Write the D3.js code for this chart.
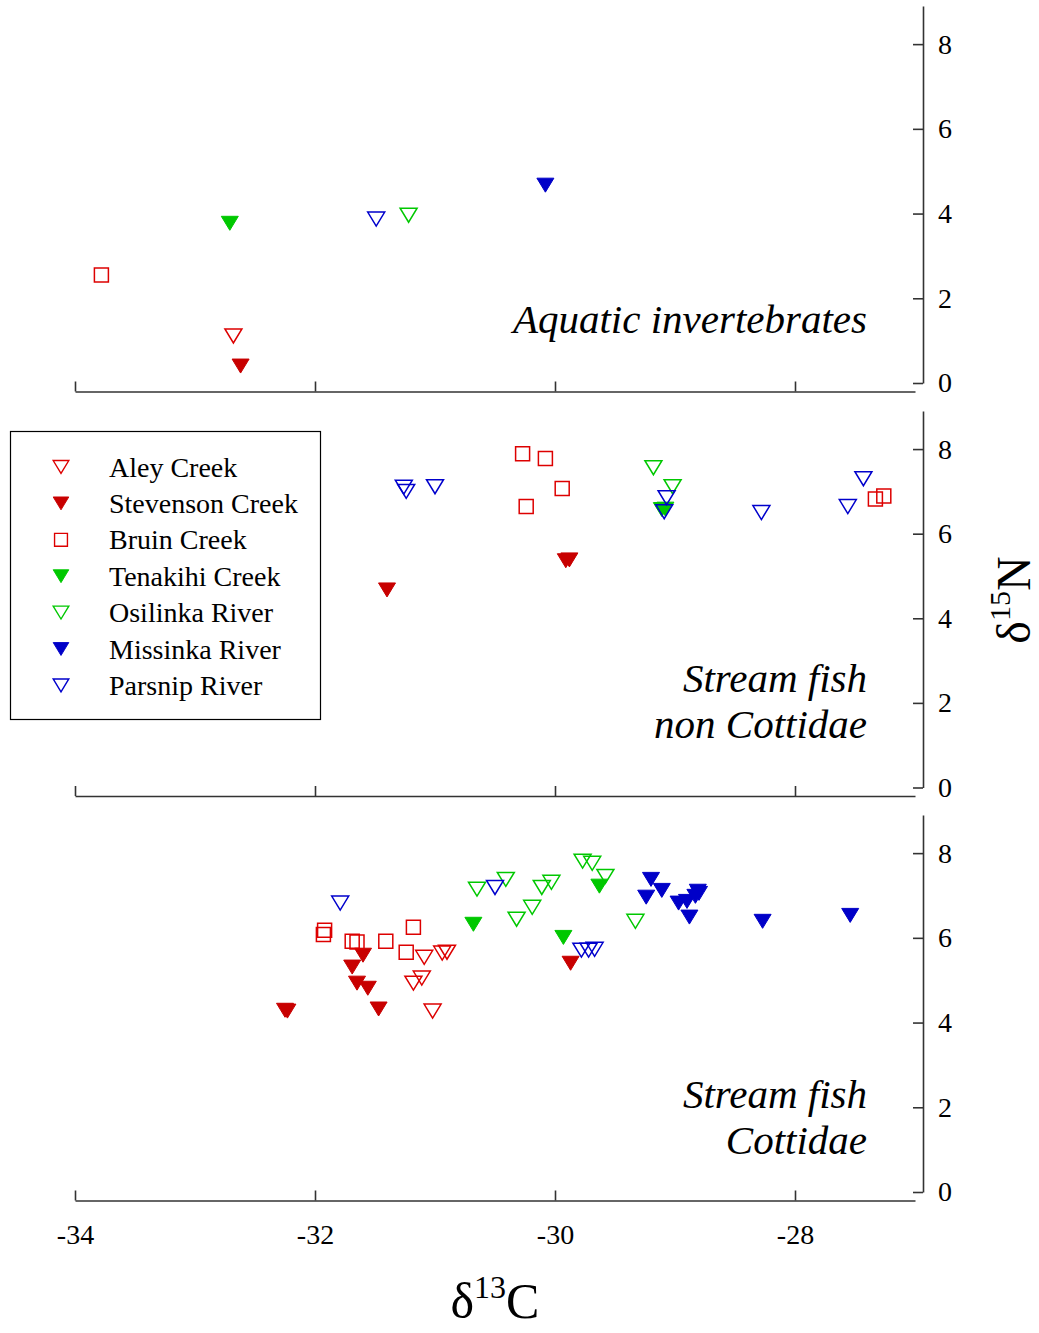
<!DOCTYPE html>
<html>
<head>
<meta charset="utf-8">
<script src="https://cdn.jsdelivr.net/npm/d3@7"></script>
<style>
  body { margin: 0; background: #fff; }
  text { font-family: "Liberation Serif", "Times New Roman", serif; }
</style>
</head>
<body>
<div id="chart"></div>
<script>
// Data: [d13C, d15N] per site, for each of the three panels
var siteNames = ["Aley Creek", "Stevenson Creek", "Bruin Creek", "Tenakihi Creek",
                 "Osilinka River", "Missinka River", "Parsnip River"];
var xTicks = [-34, -32, -30, -28];
var yTicks = [0, 2, 4, 6, 8];
var panelTitles = [["Aquatic invertebrates"], ["Stream fish", "non Cottidae"], ["Stream fish", "Cottidae"]];

// panel 1: aquatic invertebrates
var aleyInv = [[-32.68, 1.11]];
var stevensonInv = [[-32.62, 0.40]];
var bruinInv = [[-33.78, 2.55]];
var tenakihiInv = [[-32.71, 3.77]];
var osilinkaInv = [[-31.22, 3.96]];
var missinkaInv = [[-30.08, 4.67]];
var parsnipInv = [[-31.49, 3.87]];

// panel 2: stream fish, non Cottidae
var aleyFish = [];
var stevensonFish = [[-31.40, 4.67], [-29.91, 5.36], [-29.88, 5.38]];
var bruinFish = [[-30.27, 7.89], [-30.08, 7.78], [-29.94, 7.07], [-30.24, 6.64], [-27.33, 6.82], [-27.26, 6.89]];
var tenakihiFish = [[-29.11, 6.57], [-29.08, 6.58]];
var osilinkaFish = [[-29.18, 7.56], [-29.02, 7.11]];
var missinkaFish = [];
var parsnipFish = [[-31.26, 7.10], [-31.24, 7.00], [-31.00, 7.11], [-29.07, 6.85], [-29.09, 6.52],
                   [-28.28, 6.50], [-27.56, 6.64], [-27.43, 7.30]];

// panel 3: stream fish, Cottidae
var aleyCott = [[-31.09, 5.54], [-30.94, 5.64], [-30.90, 5.66], [-31.11, 5.05], [-31.18, 4.93], [-31.02, 4.27]];
var stevensonCott = [[-31.60, 5.59], [-31.69, 5.31], [-31.65, 4.93], [-31.56, 4.81], [-32.23, 4.27],
                     [-32.25, 4.29], [-31.47, 4.32], [-29.87, 5.40]];
var bruinCott = [[-31.92, 6.18], [-31.93, 6.08], [-31.69, 5.92], [-31.65, 5.90], [-31.41, 5.92],
                 [-31.18, 6.25], [-31.24, 5.66]];
var tenakihiCott = [[-30.68, 6.32], [-29.93, 6.01], [-29.63, 7.22]];
var osilinkaCott = [[-30.65, 7.15], [-30.41, 7.38], [-30.32, 6.44], [-30.19, 6.72], [-30.11, 7.19],
                    [-30.03, 7.31], [-29.77, 7.81], [-29.69, 7.76], [-29.58, 7.45], [-29.33, 6.39]];
var missinkaCott = [[-29.20, 7.38], [-29.11, 7.12], [-29.24, 6.96], [-28.97, 6.82], [-28.90, 6.86],
                    [-28.88, 6.49], [-28.81, 7.10], [-28.80, 7.05], [-28.83, 6.98], [-28.27, 6.39], [-27.54, 6.53]];
var parsnipCott = [[-31.79, 6.82], [-30.50, 7.19], [-29.78, 5.71], [-29.72, 5.71], [-29.67, 5.73]];

var panelData = [
  [aleyInv, stevensonInv, bruinInv, tenakihiInv, osilinkaInv, missinkaInv, parsnipInv],
  [aleyFish, stevensonFish, bruinFish, tenakihiFish, osilinkaFish, missinkaFish, parsnipFish],
  [aleyCott, stevensonCott, bruinCott, tenakihiCott, osilinkaCott, missinkaCott, parsnipCott]
];

// marker style for each site
var siteColor = ["#dd0000", "#c80000", "#dd0000", "#00c800", "#00c800", "#0000c8", "#0000cc"];
var siteShape = ["open", "filled", "square", "filled", "open", "filled", "open"];

var svgWidth = 1039;
var svgHeight = 1333;

var svg = d3.select("#chart")
  .append("svg")
  .attr("width", svgWidth)
  .attr("height", svgHeight);

var xScale = d3.scaleLinear().domain([-34, -27]).range([75, 915]);

// each panel: pixel row of y = 0, the top of its axis, and title baseline
var panelBottom = [383, 787.5, 1192];
var panelTop = [6, 411, 815];
var titleBase = [333, 692, 1108];

function markerPath(shape) {
  if (shape === "square") return "M-7,-7H7V7H-7Z";
  return "M-8.5,-7L8.5,-7L0,7Z";
}

function drawMarker(g, shape, color) {
  var p = g.append("path").attr("d", markerPath(shape));
  if (shape === "filled") {
    p.attr("fill", color).attr("stroke", color).attr("stroke-width", 1);
  } else {
    p.attr("fill", "none").attr("stroke", color).attr("stroke-width", 1.5);
  }
  return p;
}

panelData.forEach(function(series, pi) {
  var yScale = d3.scaleLinear().domain([0, 8.9]).range([panelBottom[pi], panelTop[pi]]);

  // right y axis with ticks pointing inward
  var yAxis = svg.append("g")
    .attr("transform", "translate(923,0)")
    .call(d3.axisRight(yScale).tickValues(yTicks).tickSizeInner(-10).tickSizeOuter(0).tickPadding(15));
  yAxis.selectAll("text").attr("font-size", 28).attr("fill", "#000");

  // bottom x axis (labels only under the last panel, hyphen as minus)
  var xAxis = svg.append("g")
    .attr("transform", "translate(0," + (panelBottom[pi] + 8.5) + ")")
    .call(d3.axisBottom(xScale).tickValues(xTicks).tickSizeInner(-10).tickSizeOuter(0).tickPadding(24)
      .tickFormat(function(d) { return pi === 2 ? String(d) : ""; }));
  xAxis.selectAll("text").attr("font-size", 28).attr("fill", "#000");

  [xAxis, yAxis].forEach(function(a) {
    a.select(".domain").attr("stroke", "#333").attr("stroke-width", 1.6);
    a.selectAll(".tick line").attr("stroke", "#333").attr("stroke-width", 1.6);
  });

  // points
  series.forEach(function(pts, si) {
    pts.forEach(function(d) {
      var g = svg.append("g")
        .attr("transform", "translate(" + xScale(d[0]) + "," + yScale(d[1]) + ")");
      drawMarker(g, siteShape[si], siteColor[si]);
    });
  });

  // panel title
  var title = svg.append("text")
    .attr("text-anchor", "end")
    .attr("font-style", "italic")
    .attr("font-size", 41);
  panelTitles[pi].forEach(function(t, li) {
    title.append("tspan")
      .attr("x", 867)
      .attr("y", titleBase[pi] + li * 46)
      .text(t);
  });
});

// legend
var legend = svg.append("g");
legend.append("rect")
  .attr("x", 10.5).attr("y", 431.5)
  .attr("width", 310).attr("height", 288)
  .attr("fill", "#fff").attr("stroke", "#000").attr("stroke-width", 1.2);

siteNames.forEach(function(name, i) {
  var cy = 467 + i * 36.4;
  var g = legend.append("g").attr("transform", "translate(61," + cy + ")");
  drawMarker(g, siteShape[i], siteColor[i]).attr("transform", "scale(0.92)");
  legend.append("text")
    .attr("x", 109).attr("y", cy + 9.5)
    .attr("font-size", 28)
    .text(name);
});

// axis titles
var xTitle = svg.append("text")
  .attr("x", 495).attr("y", 1318)
  .attr("text-anchor", "middle")
  .attr("font-size", 50);
xTitle.append("tspan").text("δ");
xTitle.append("tspan").attr("font-size", 32).attr("dy", -20).text("13");
xTitle.append("tspan").attr("dy", 20).text("C");

var yTitle = svg.append("text")
  .attr("transform", "translate(1030,600) rotate(-90)")
  .attr("text-anchor", "middle")
  .attr("font-size", 48);
yTitle.append("tspan").text("δ");
yTitle.append("tspan").attr("font-size", 30).attr("dy", -20).text("15");
yTitle.append("tspan").attr("dy", 20).text("N");
</script>
</body>
</html>
